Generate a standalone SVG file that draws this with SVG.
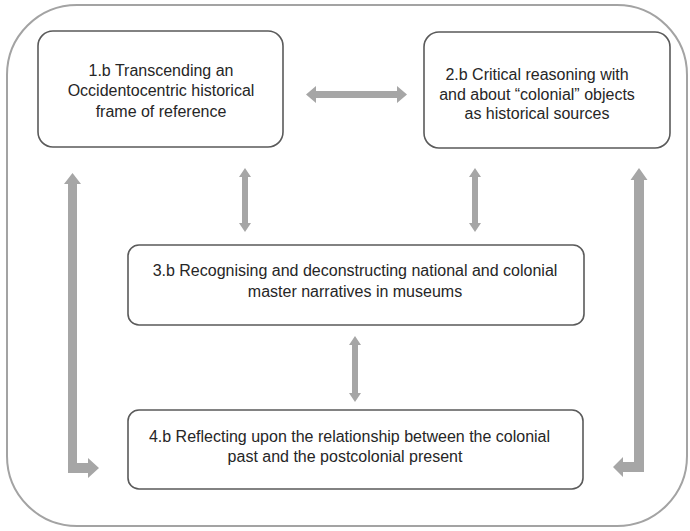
<svg xmlns="http://www.w3.org/2000/svg" width="690" height="531" viewBox="0 0 690 531">
<style>
.frame{fill:#fff;stroke:#a3a3a3;stroke-width:2}
.box{fill:#fff;stroke:#5a5a5a;stroke-width:1.6}
.arr{fill:#a6a6a6}
text{font-family:"Liberation Sans",Arial,sans-serif;font-size:16px;fill:#262626;text-anchor:middle}
</style>
<rect width="690" height="531" fill="#fff"/>
<rect class="frame" x="7" y="5" width="680" height="521" rx="70" ry="70"/>
<g id="connectors">
<polygon class="arr" points="306,94.5 316,86 316,91 397,91 397,86 407,94.5 397,103 397,98 316,98 316,103"/>
<polygon class="arr" points="245,168 251,177 248,177 248,223 251,223 245,232 239,223 242,223 242,177 239,177"/>
<polygon class="arr" points="475,168 481,177 478,177 478,223 481,223 475,232 469,223 472,223 472,177 469,177"/>
<polygon class="arr" points="355,336 361,345 358,345 358,393 361,393 355,402 349,393 352,393 352,345 349,345"/>
<polygon class="arr" points="72.5,173 81,184 77,184 77,463 88,463 88,458 99,468 88,478 88,473 68,473 68,184 64,184"/>
<polygon class="arr" points="639,168 647.5,180 644,180 644,472 623,472 623,477 613,467 623,457 623,462 634,462 634,180 630.5,180"/>
</g>
<g id="node1">
<rect class="box" x="38" y="31" width="245" height="116" rx="15"/>
<text x="161" y="76">1.b Transcending an</text>
<text x="161" y="96">Occidentocentric historical</text>
<text x="161" y="117">frame of reference</text>
</g>
<g id="node2">
<rect class="box" x="424" y="32" width="246" height="116" rx="15"/>
<text x="537" y="80">2.b Critical reasoning with</text>
<text x="537" y="100">and about “colonial” objects</text>
<text x="537" y="119">as historical sources</text>
</g>
<g id="node3">
<rect class="box" x="128" y="245" width="456" height="80" rx="11"/>
<text x="355" y="276">3.b Recognising and deconstructing national and colonial</text>
<text x="355" y="297">master narratives in museums</text>
</g>
<g id="node4">
<rect class="box" x="128" y="410" width="455" height="79" rx="11"/>
<text x="349.5" y="442">4.b Reflecting upon the relationship between the colonial</text>
<text x="345" y="462">past and the postcolonial present</text>
</g>
</svg>
